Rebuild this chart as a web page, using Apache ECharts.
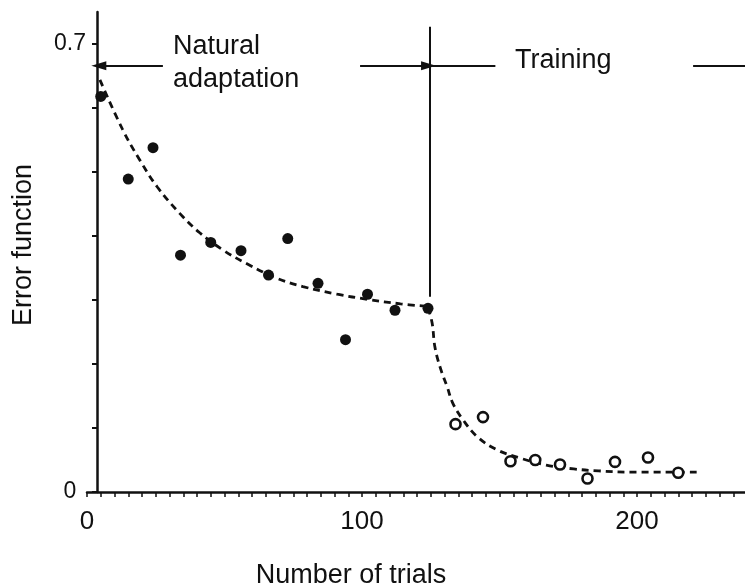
<!DOCTYPE html>
<html><head><meta charset="utf-8">
<script src="https://cdn.jsdelivr.net/npm/echarts@6/dist/echarts.min.js"></script>
<style>html,body{margin:0;padding:0;background:#fff}#c{width:745px;height:588px}</style>
</head><body><div id="c"></div>
<script>
// ---- data ----
const naturalTrials = [5, 15, 24, 34, 45, 56, 66, 73, 84, 94, 102, 112, 124];
const naturalError  = [0.618, 0.489, 0.538, 0.370, 0.390, 0.377, 0.339, 0.396, 0.326, 0.238, 0.309, 0.284, 0.287];
const trainingTrials = [134, 144, 154, 163, 172, 182, 192, 204, 215];
const trainingError  = [0.106, 0.117, 0.048, 0.050, 0.043, 0.021, 0.047, 0.054, 0.030];
const fitNaturalTrials = [4.7, 13, 19.3, 25.5, 33.8, 41, 49.5, 58, 69, 78.5, 91, 102, 114, 124];
const fitNaturalError  = [0.644, 0.566, 0.518, 0.477, 0.435, 0.405, 0.378, 0.357, 0.334, 0.321, 0.309, 0.301, 0.294, 0.290];
const fitTrainingTrials = [124, 125.5, 126.5, 128.4, 131, 133, 136.7, 142, 149, 157.5, 167, 177, 186, 198, 223];
const fitTrainingError  = [0.288, 0.264, 0.227, 0.195, 0.164, 0.139, 0.113, 0.086, 0.066, 0.053, 0.042, 0.036, 0.033, 0.031, 0.031];
const xTickLabels = [0, 100, 200];
const yTickLabels = [0, 0.7];
const yTicks = [0, 0.1, 0.2, 0.3, 0.4, 0.5, 0.6, 0.7];
// annotations (data coordinates)
const phaseBoundary = 124.7;
const boundaryRange = [0.305, 0.727];
const arrowLevel = 0.666;
const annotationTexts = ['Natural\nadaptation', 'Training'];
const annotationX = [31.3, 155.6];
const annotationY = [0.671, 0.674];
const naturalArrowLeft = [27.6, 4.3];
const naturalArrowRight = [99.3, 124.2];
const trainingLineLeft = [125.5, 148.5];
const trainingLineRight = [220.4, 240];

const INK = '#111';
const FONT = "'Liberation Sans', Arial, Helvetica, sans-serif";
const pairs = (xs, ys) => xs.map((x, i) => [x, ys[i]]);
const seg = (x1, y1, x2, y2, endSymbol) => [
  { coord: [x1, y1], symbol: 'none' },
  { coord: [x2, y2], symbol: endSymbol, symbolSize: [9, 15] }
];

const chart = echarts.init(document.getElementById('c'), null, { renderer: 'canvas' });
chart.setOption({
  animation: false,
  backgroundColor: '#fff',
  textStyle: { fontFamily: FONT, color: INK },
  grid: { left: 87, top: 12, width: 660, height: 480, outerBoundsMode: 'none', containLabel: false },
  xAxis: {
    type: 'value', min: 0, max: 240, interval: 5,
    name: 'Number of trials', nameLocation: 'middle', nameGap: 70,
    nameTextStyle: { fontSize: 27, color: INK, fontFamily: FONT, padding: [0, 132, 0, 0] },
    axisLine: { onZero: false, lineStyle: { color: INK, width: 2.5 } },
    axisTick: { length: 5, lineStyle: { color: INK, width: 1.5 } },
    axisLabel: {
      fontSize: 26, color: INK, fontFamily: FONT, margin: 17,
      formatter: v => (xTickLabels.indexOf(Math.round(v)) >= 0 && Math.abs(v - Math.round(v)) < 1e-6) ? String(Math.round(v)) : ''
    },
    splitLine: { show: false }
  },
  yAxis: {
    type: 'value', min: 0, max: 0.75, interval: 0.1, offset: -10,
    name: 'Error function', nameLocation: 'middle', nameGap: 60, nameRotate: 90,
    nameTextStyle: { fontSize: 27, color: INK, fontFamily: FONT, padding: [0, 0, 0, 14] },
    axisLine: { onZero: false, lineStyle: { color: INK, width: 2.5 } },
    axisTick: { length: 5, customValues: yTicks, lineStyle: { color: INK, width: 2 } },
    axisLabel: {
      customValues: yTickLabels,
      fontSize: 23, color: INK, fontFamily: FONT, margin: 27, align: 'center',
      padding: [0, 0, 15, 0],
      formatter: v => yTickLabels.some(t => Math.abs(t - v) < 1e-6) ? String(v) : ''
    },
    splitLine: { show: false }
  },
  series: [
    {
      type: 'line', name: 'fit natural', data: pairs(fitNaturalTrials, fitNaturalError),
      symbol: 'none', showSymbol: false, smooth: 0.4, silent: true, z: 2,
      lineStyle: { color: INK, width: 2.8, type: [7, 5], opacity: 1 }
    },
    {
      type: 'line', name: 'fit training', data: pairs(fitTrainingTrials, fitTrainingError),
      symbol: 'none', showSymbol: false, smooth: 0.4, silent: true, z: 2,
      lineStyle: { color: INK, width: 2.8, type: [7, 5], opacity: 1 }
    },
    {
      type: 'scatter', name: 'Natural adaptation', data: pairs(naturalTrials, naturalError),
      symbol: 'circle', symbolSize: 11, silent: true, z: 3,
      itemStyle: { color: INK, opacity: 1 }
    },
    {
      type: 'scatter', name: 'Training', data: pairs(trainingTrials, trainingError),
      symbol: 'circle', symbolSize: 10, silent: true, z: 3,
      itemStyle: { color: '#fff', borderColor: INK, borderWidth: 2.6, opacity: 1 }
    },
    {
      type: 'scatter', name: 'annotations', data: pairs(annotationX, annotationY),
      symbolSize: 0, silent: true, z: 4,
      itemStyle: { opacity: 1 },
      label: {
        show: true, position: 'right', distance: 0, align: 'left',
        fontSize: 27, lineHeight: 33, color: INK, fontFamily: FONT, opacity: 1,
        formatter: p => annotationTexts[p.dataIndex]
      },
      markLine: {
        silent: true, animation: false, symbol: ['none', 'none'],
        label: { show: false },
        lineStyle: { type: 'solid', color: INK, width: 2, opacity: 1 },
        emphasis: { disabled: true },
        data: [
          seg(phaseBoundary, boundaryRange[0], phaseBoundary, boundaryRange[1], 'none'),
          seg(naturalArrowLeft[0], arrowLevel, naturalArrowLeft[1], arrowLevel, 'triangle'),
          seg(naturalArrowRight[0], arrowLevel, naturalArrowRight[1], arrowLevel, 'triangle'),
          seg(trainingLineLeft[0], arrowLevel, trainingLineLeft[1], arrowLevel, 'none'),
          seg(trainingLineRight[0], arrowLevel, trainingLineRight[1], arrowLevel, 'none')
        ]
      }
    }
  ]
});
</script>
</body></html>
